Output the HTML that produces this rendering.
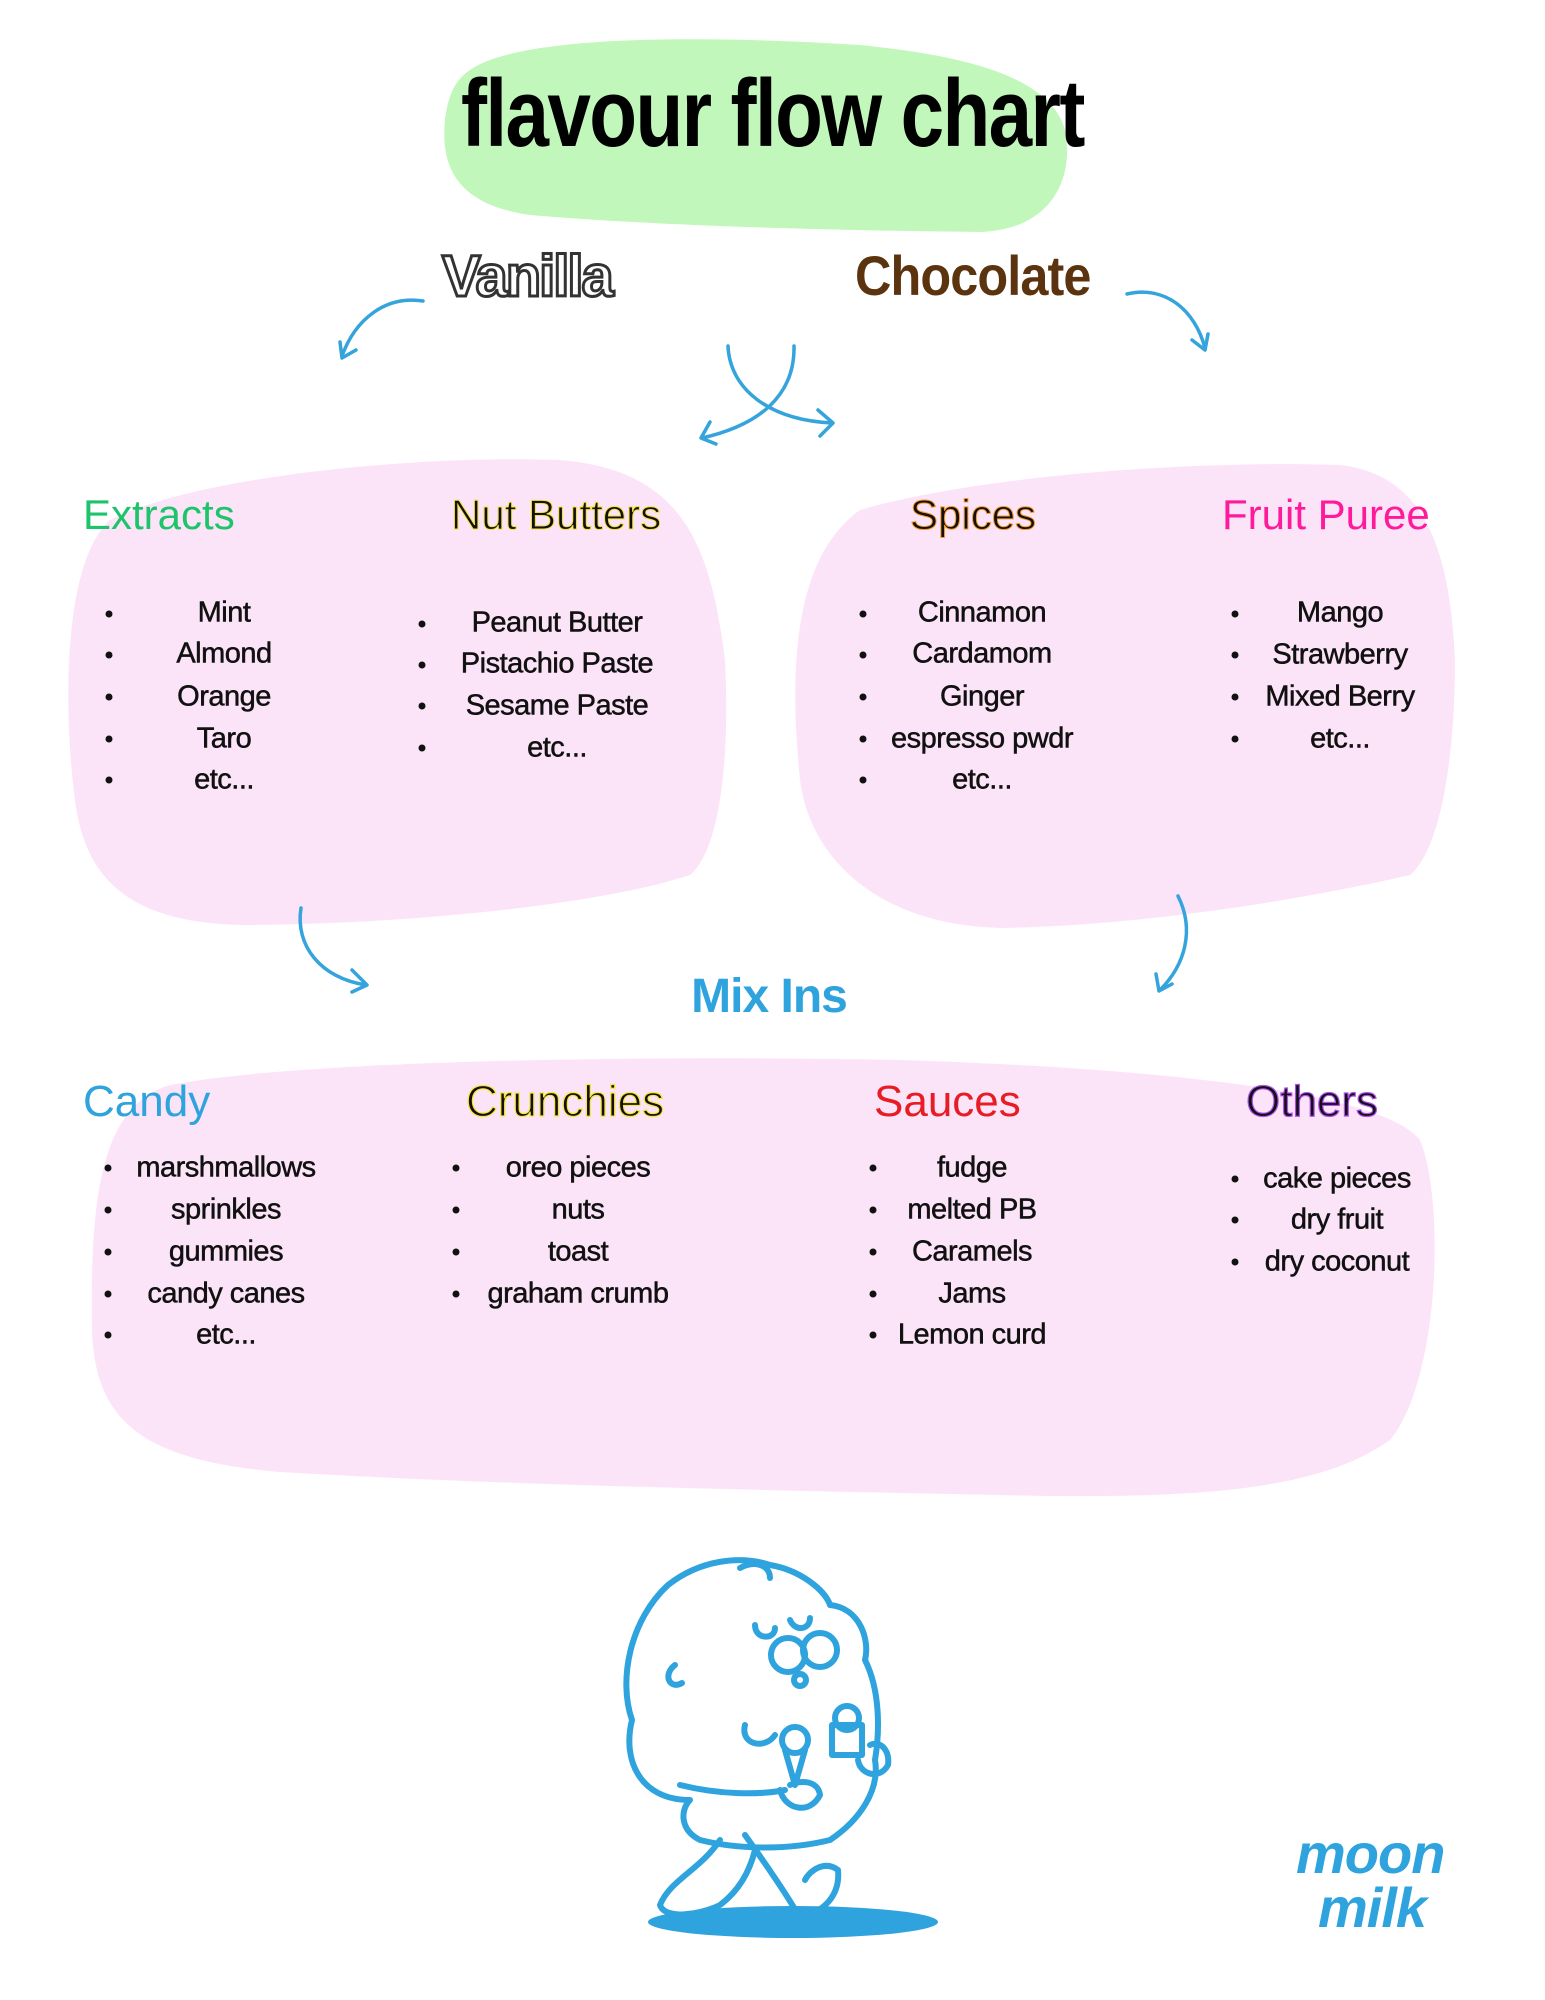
<!DOCTYPE html>
<html><head><meta charset="utf-8">
<style>
html,body{margin:0;padding:0;background:#fff}
body{width:1545px;height:2000px;position:relative;overflow:hidden;font-family:"Liberation Sans",sans-serif}
.t{position:absolute;white-space:nowrap;line-height:1}
.h{font-size:42px;transform:translateY(-50%)}
.li{position:absolute;font-size:29px;color:#111;transform:translate(-50%,-50%);white-space:nowrap;letter-spacing:-0.5px;-webkit-text-stroke:0.5px #111}
.b{position:absolute;width:7px;height:7px;border-radius:50%;background:#111;transform:translate(-50%,-50%)}
</style></head><body>
<svg width="1545" height="2000" style="position:absolute;left:0;top:0">
<path d="M470,70 C520,35 700,35 860,45 C960,55 1050,75 1065,130 C1075,180 1050,230 980,232 C800,230 650,225 530,215 C460,205 440,170 445,120 C448,95 455,80 470,70Z" fill="#c2f7bb"/>
<path d="M110,520 C200,475 420,455 560,460 C680,470 710,540 725,660 C730,760 720,850 690,875 C600,905 400,925 240,925 C130,922 85,880 75,800 C62,700 65,560 110,520Z" fill="#fce4f8"/>
<path d="M860,510 C980,475 1200,460 1340,465 C1430,475 1450,560 1455,660 C1455,760 1440,850 1410,875 C1300,900 1150,925 1000,928 C880,925 810,860 800,780 C790,680 790,560 860,510Z" fill="#fce4f8"/>
<path d="M170,1085 C300,1060 650,1055 900,1060 C1150,1068 1380,1090 1420,1140 C1445,1200 1440,1380 1390,1440 C1320,1490 1200,1500 1000,1495 C750,1490 500,1485 280,1472 C140,1460 95,1420 92,1330 C90,1200 100,1105 170,1085Z" fill="#fce4f8"/>
<g fill="none" stroke="#35a3dc" stroke-width="3.5" stroke-linecap="round" stroke-linejoin="round">
<path d="M423,301 C385,295 355,320 342,356"/><path d="M340,342 L342,358 L356,350"/>
<path d="M1127,294 C1165,285 1195,310 1205,348"/><path d="M1192,340 L1205,350 L1208,334"/>
<path d="M728,346 C730,390 770,420 832,423"/><path d="M818,410 L833,423 L820,436"/>
<path d="M794,346 C795,395 760,425 702,438"/><path d="M710,422 L701,438 L716,444"/>
<path d="M301,908 C295,945 320,978 366,985"/><path d="M352,970 L367,985 L352,992"/>
<path d="M1178,896 C1195,930 1185,965 1160,990"/><path d="M1156,974 L1159,991 L1172,984"/>
</g>
<g fill="none" stroke="#2fa3dd" stroke-width="6" stroke-linecap="round" stroke-linejoin="round">
<ellipse cx="793" cy="1922" rx="145" ry="16" fill="#2fa3dd" stroke="none"/>
<path d="M690,1800 C640,1800 622,1760 632,1720 C618,1680 630,1620 668,1585 C700,1560 740,1555 770,1565 C800,1570 825,1590 830,1605 C860,1608 870,1640 865,1660 C880,1690 880,1730 875,1760 C880,1790 860,1820 830,1840 C790,1850 740,1850 700,1840 C680,1830 680,1810 690,1800Z" fill="#fff"/>
<path d="M720,1840 C700,1870 670,1880 660,1905 C665,1920 700,1915 720,1905 C740,1890 750,1870 755,1850"/>
<path d="M745,1835 C770,1870 790,1900 800,1918 C830,1910 840,1890 838,1870 C825,1860 810,1870 805,1880"/>
<path d="M680,1785 C720,1795 760,1795 785,1790"/>
<circle cx="788" cy="1655" r="17"/><circle cx="820" cy="1650" r="17"/>
<circle cx="800" cy="1680" r="6"/>
<path d="M755,1625 C755,1640 775,1640 775,1628"/><path d="M790,1620 C795,1632 810,1630 810,1618"/>
<path d="M675,1665 C662,1675 670,1690 682,1683"/>
<path d="M745,1725 C740,1745 765,1750 775,1735"/>
<circle cx="795" cy="1740" r="13"/><path d="M785,1750 L795,1785 L805,1750"/>
<rect x="832" y="1725" width="30" height="30"/><circle cx="847" cy="1718" r="12"/>
<path d="M780,1790 C785,1810 810,1815 820,1795 C818,1780 800,1780 790,1785"/>
<path d="M858,1760 C860,1775 880,1780 888,1765 C890,1750 880,1740 870,1745"/>
<path d="M740,1568 C755,1560 770,1565 770,1578"/>
</g>
</svg>

<div class="t" style="left:461px;top:66px;font-size:96px;font-weight:bold;color:#000;letter-spacing:-2px;transform:scaleX(0.815);transform-origin:0 0">flavour flow chart</div>
<div class="t" style="left:442px;top:248px;font-size:58px;font-weight:bold;color:#fff;-webkit-text-stroke:3px #333;letter-spacing:-2px">Vanilla</div>
<div class="t" style="left:855px;top:248px;font-size:56px;font-weight:bold;color:#5b340f;letter-spacing:-1px;transform:scaleX(0.9);transform-origin:0 0">Chocolate</div>

<div class="t h" style="left:83px;top:515px;color:#1ec46c">Extracts</div>
<div class="t h" style="left:451px;top:515px;color:#111;-webkit-text-stroke:1px #f2e03a">Nut Butters</div>
<div class="t h" style="left:910px;top:515px;color:#111;-webkit-text-stroke:1px #f59a2c">Spices</div>
<div class="t h" style="left:1222px;top:515px;color:#ff1a9c">Fruit Puree</div>

<div class="t" style="left:769px;top:997px;transform:translate(-50%,-50%);font-size:48px;font-weight:bold;color:#2fa3dd;letter-spacing:-1px">Mix Ins</div>

<div class="t h" style="left:83px;top:1102px;color:#2fa3dd;font-size:44px">Candy</div>
<div class="t h" style="left:466px;top:1102px;color:#111;-webkit-text-stroke:1.2px #f5e63a;font-size:44px">Crunchies</div>
<div class="t h" style="left:874px;top:1102px;color:#e81c24;font-size:44px">Sauces</div>
<div class="t h" style="left:1246px;top:1102px;color:#111;-webkit-text-stroke:1.2px #b04ff0;font-size:44px">Others</div>

<div class="b" style="left:109px;top:614px"></div><div class="li" style="left:224px;top:613px">Mint</div>
<div class="b" style="left:109px;top:655px"></div><div class="li" style="left:224px;top:654px">Almond</div>
<div class="b" style="left:109px;top:697px"></div><div class="li" style="left:224px;top:697px">Orange</div>
<div class="b" style="left:109px;top:739px"></div><div class="li" style="left:224px;top:739px">Taro</div>
<div class="b" style="left:109px;top:780px"></div><div class="li" style="left:224px;top:780px">etc...</div>
<div class="b" style="left:422px;top:624px"></div><div class="li" style="left:557px;top:623px">Peanut Butter</div>
<div class="b" style="left:422px;top:665px"></div><div class="li" style="left:557px;top:664px">Pistachio Paste</div>
<div class="b" style="left:422px;top:706px"></div><div class="li" style="left:557px;top:706px">Sesame Paste</div>
<div class="b" style="left:422px;top:748px"></div><div class="li" style="left:557px;top:748px">etc...</div>
<div class="b" style="left:863px;top:614px"></div><div class="li" style="left:982px;top:613px">Cinnamon</div>
<div class="b" style="left:863px;top:655px"></div><div class="li" style="left:982px;top:654px">Cardamom</div>
<div class="b" style="left:863px;top:697px"></div><div class="li" style="left:982px;top:697px">Ginger</div>
<div class="b" style="left:863px;top:739px"></div><div class="li" style="left:982px;top:739px">espresso pwdr</div>
<div class="b" style="left:863px;top:780px"></div><div class="li" style="left:982px;top:780px">etc...</div>
<div class="b" style="left:1235px;top:614px"></div><div class="li" style="left:1340px;top:613px">Mango</div>
<div class="b" style="left:1235px;top:655px"></div><div class="li" style="left:1340px;top:655px">Strawberry</div>
<div class="b" style="left:1235px;top:697px"></div><div class="li" style="left:1340px;top:697px">Mixed Berry</div>
<div class="b" style="left:1235px;top:739px"></div><div class="li" style="left:1340px;top:739px">etc...</div>
<div class="b" style="left:108px;top:1168px"></div><div class="li" style="left:226px;top:1168px">marshmallows</div>
<div class="b" style="left:108px;top:1210px"></div><div class="li" style="left:226px;top:1210px">sprinkles</div>
<div class="b" style="left:108px;top:1252px"></div><div class="li" style="left:226px;top:1252px">gummies</div>
<div class="b" style="left:108px;top:1294px"></div><div class="li" style="left:226px;top:1294px">candy canes</div>
<div class="b" style="left:108px;top:1335px"></div><div class="li" style="left:226px;top:1335px">etc...</div>
<div class="b" style="left:456px;top:1168px"></div><div class="li" style="left:578px;top:1168px">oreo pieces</div>
<div class="b" style="left:456px;top:1210px"></div><div class="li" style="left:578px;top:1210px">nuts</div>
<div class="b" style="left:456px;top:1252px"></div><div class="li" style="left:578px;top:1252px">toast</div>
<div class="b" style="left:456px;top:1294px"></div><div class="li" style="left:578px;top:1294px">graham crumb</div>
<div class="b" style="left:873px;top:1168px"></div><div class="li" style="left:972px;top:1168px">fudge</div>
<div class="b" style="left:873px;top:1210px"></div><div class="li" style="left:972px;top:1210px">melted PB</div>
<div class="b" style="left:873px;top:1252px"></div><div class="li" style="left:972px;top:1252px">Caramels</div>
<div class="b" style="left:873px;top:1294px"></div><div class="li" style="left:972px;top:1294px">Jams</div>
<div class="b" style="left:873px;top:1335px"></div><div class="li" style="left:972px;top:1335px">Lemon curd</div>
<div class="b" style="left:1235px;top:1179px"></div><div class="li" style="left:1337px;top:1179px">cake pieces</div>
<div class="b" style="left:1235px;top:1220px"></div><div class="li" style="left:1337px;top:1220px">dry fruit</div>
<div class="b" style="left:1235px;top:1262px"></div><div class="li" style="left:1337px;top:1262px">dry coconut</div>

<div class="t" style="left:1296px;top:1826px;font-size:56px;font-weight:bold;font-style:italic;color:#2fa3dd;letter-spacing:-1px">moon</div>
<div class="t" style="left:1318px;top:1880px;font-size:56px;font-weight:bold;font-style:italic;color:#2fa3dd;letter-spacing:-1px">milk</div>
</body></html>
